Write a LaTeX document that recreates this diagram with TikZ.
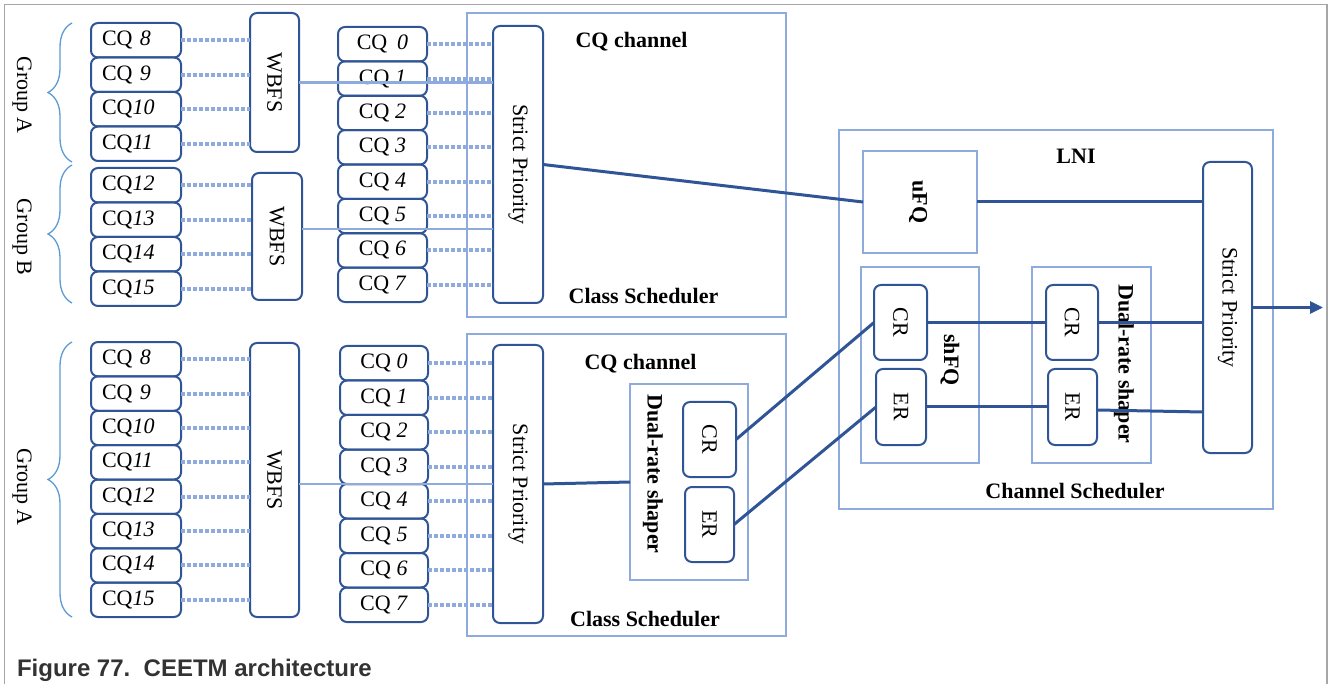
\documentclass[tikz,border=0pt]{standalone}
\usepackage{fontspec}
\setmainfont{Liberation Serif}
\newfontfamily\capfont{Liberation Sans}
\usetikzlibrary{calc,decorations.pathreplacing,arrows.meta}
\definecolor{dblue}{HTML}{2F5597}
\definecolor{lblue}{HTML}{8FAADC}
\definecolor{bblue}{HTML}{5B9BD5}
\definecolor{framegray}{HTML}{A6A6A6}
\definecolor{captxt}{HTML}{333333}
\begin{document}
\begin{tikzpicture}[x=1pt,y=-1pt,
  every node/.style={font=\fontsize{22}{26}\selectfont, inner sep=0pt, outer sep=0pt},
  rbox/.style={draw=dblue, line width=2pt, rounded corners=7pt},
  cqL/.style={rbox, minimum height=34.5pt, text width=68pt, inner xsep=11pt, align=left},
  cqM/.style={rbox, minimum width=89pt, minimum height=34.4pt},
  cont/.style={draw=lblue, line width=2pt},
  dots/.style={lblue, line width=4pt, dash pattern=on 4pt off 2pt},
  lline/.style={lblue, line width=2.5pt},
  dline/.style={dblue, line width=3pt},
  gbrace/.style={bblue, line width=1.3pt, decorate, decoration={brace, amplitude=24pt}},
  vtext/.style={rotate=-90},
  btext/.style={font=\fontsize{22}{26}\selectfont\bfseries, anchor=base}
]
\useasboundingbox (0,0) rectangle (1328,684);
% frame
\draw[framegray, line width=1.5pt] (4.5,684) -- (4.5,4.5) -- (1327,4.5) -- (1327,684);

% ---------- containers ----------
\node[cont, minimum width=319pt, minimum height=304pt] (ch1) at (626.5,165) {};
\node[cont, minimum width=319pt, minimum height=302pt] (ch2) at (626.5,485) {};
\node[cont, minimum width=118pt, minimum height=196pt] (drs1) at (689,482) {};
\node[cont, minimum width=434pt, minimum height=379pt] (lni) at (1056,319.5) {};
\node[cont, minimum width=114pt, minimum height=102pt] (ufq) at (920,202) {};
\node[cont, minimum width=118pt, minimum height=196pt] (shfq) at (920,365) {};
\node[cont, minimum width=119pt, minimum height=196pt] (drs2) at (1091.5,365) {};

% ---------- top-left ----------
\node[vtext] (gA1) at (22,95) {Group A};
\node[vtext] (gB1) at (22,237) {Group B};
\node[vtext] (gA2) at (22,487) {Group A};
\draw[gbrace] (72,162) -- (72,23);
\draw[gbrace] (72,303) -- (72,165);
\draw[gbrace] (72,617) -- (72,342);

\foreach \i/\t in {0/{CQ \textit{8}},1/{CQ \textit{9}},2/{CQ\textit{10}},3/{CQ\textit{11}}}
  \node[cqL] (tA\i) at (136,{40.25+34.5*\i}) {\t};
\foreach \i/\t in {0/{CQ\textit{12}},1/{CQ\textit{13}},2/{CQ\textit{14}},3/{CQ\textit{15}}}
  \node[cqL] (tB\i) at (136,{185.25+34.5*\i}) {\t};
\node[rbox, minimum width=49pt, minimum height=139pt, label={[vtext]center:WBFS}] (w1) at (274.5,82.5) {};
\node[rbox, minimum width=50pt, minimum height=127pt, label={[vtext]center:WBFS}] (w2) at (277,236.5) {};

\foreach \i/\t in {0/{CQ\hspace{0.45em}\textit{0}},1/{CQ \textit{1}},2/{CQ \textit{2}},3/{CQ \textit{3}},4/{CQ \textit{4}},5/{CQ \textit{5}},6/{CQ \textit{6}},7/{CQ \textit{7}}}
  \node[cqM] (tm\i) at (382.5,{44.19+34.375*\i}) {\t};
\node[rbox, minimum width=50pt, minimum height=277pt, label={[vtext]center:Strict Priority}] (sp1) at (518,164.5) {};
\node[btext] (lch1) at (631.5,48) {CQ channel};
\node[btext] (lcs1) at (643.5,304) {Class Scheduler};

% ---------- bottom-left ----------
\foreach \i/\t in {0/{CQ \textit{8}},1/{CQ \textit{9}},2/{CQ\textit{10}},3/{CQ\textit{11}},4/{CQ\textit{12}},5/{CQ\textit{13}},6/{CQ\textit{14}},7/{CQ\textit{15}}}
  \node[cqL, minimum height=34.375pt] (bL\i) at (136,{359.19+34.375*\i}) {\t};
\node[rbox, minimum width=49pt, minimum height=274pt, label={[vtext]center:WBFS}] (w3) at (274.5,480) {};
\foreach \i/\t in {0/{CQ \textit{0}},1/{CQ \textit{1}},2/{CQ \textit{2}},3/{CQ \textit{3}},4/{CQ \textit{4}},5/{CQ \textit{5}},6/{CQ \textit{6}},7/{CQ \textit{7}}}
  \node[cqM, minimum width=88pt, minimum height=34.5pt] (bm\i) at (384,{363.25+34.5*\i}) {\t};
\node[rbox, minimum width=50pt, minimum height=278pt, label={[vtext]center:Strict Priority}] (sp2) at (518,484) {};
\node[btext] (lch2) at (640.5,370) {CQ channel};
\node[btext] (lcs2) at (645,626) {Class Scheduler};
\node[vtext, font=\fontsize{22}{26}\selectfont\bfseries] (ldrs1) at (653,474) {Dual-rate shaper};
\node[rbox, minimum width=53pt, minimum height=75pt, label={[vtext]center:CR}] (cr1) at (709.5,439.5) {};
\node[rbox, minimum width=49pt, minimum height=75pt, label={[vtext]center:ER}] (er1) at (709.5,524.5) {};

% ---------- right ----------
\node[btext] (llni) at (1076,164) {LNI};
\node[btext] (lchs) at (1075,498) {Channel Scheduler};
\node[vtext, font=\fontsize{22}{26}\selectfont\bfseries] (lufq) at (918,202) {uFQ};
\node[vtext, font=\fontsize{22}{26}\selectfont\bfseries] (lshfq) at (950,360) {shFQ};
\node[rbox, minimum width=53pt, minimum height=75pt, label={[vtext]center:CR}] (cr3) at (900.5,322.5) {};
\node[rbox, minimum width=50pt, minimum height=76pt, label={[vtext]center:ER}] (er3) at (901,407) {};
\node[rbox, minimum width=52pt, minimum height=75pt, label={[vtext]center:CR}] (cr4) at (1072,322.5) {};
\node[rbox, minimum width=49pt, minimum height=76pt, label={[vtext]center:ER}] (er4) at (1072.5,407) {};
\node[rbox, minimum width=49pt, minimum height=291pt, label={[vtext]center:Strict Priority}] (sp3) at (1227.5,307.5) {};
\node[vtext, font=\fontsize{22}{26}\selectfont\bfseries] (ldrs2) at (1124,364) {Dual-rate shaper};
\coordinate (outp) at (1323,307.5);

% ---------- connectors ----------
\foreach \i in {0,...,3} {
  \draw[dots] (tA\i.east) -- (tA\i.east -| w1.west);
  \draw[dots] (tB\i.east) -- (tB\i.east -| w2.west);
}
\foreach \i in {0,...,7} {
  \draw[dots] (tm\i.east) -- (tm\i.east -| sp1.west);
  \draw[dots] (bL\i.east) -- (bL\i.east -| w3.west);
  \draw[dots] (bm\i.east) -- (bm\i.east -| sp2.west);
}
\draw[lline] (w1.east) -- (w1.east -| sp1.west);
\draw[lline] ($(w2.east)+(0,-7.5)$) -- ($(w2.east -| sp1.west)+(0,-7.5)$);
\draw[lline] (sp2.west -| w3.east) -- (sp2.west);

\draw[dline] (sp1.east) -- (ufq.west);
\draw[dline] (sp2.east) -- (drs1.west);
\draw[dline] (cr1.east) -- (cr3.west);
\draw[dline] (er1.east) -- (er3.west);
\draw[dline] (ufq.east) -- (ufq.east -| sp3.west);
\draw[dline] (cr3.east) -- (cr4.west);
\draw[dline] (cr4.east) -- (cr4.east -| sp3.west);
\draw[dline] (er3.east) -- (er4.west);
\draw[dline] ($(er4.east)+(0,3)$) -- ($(er4.east -| sp3.west)+(0,5)$);
\draw[dline, -{Triangle[length=13pt,width=12pt]}] (sp3.east) -- (outp);

% caption
\node[anchor=base west, font=\capfont\bfseries\fontsize{24}{28}\selectfont, text=captxt] (cap) at (17,676) {Figure 77.\ \ CEETM architecture};
\end{tikzpicture}
\end{document}
